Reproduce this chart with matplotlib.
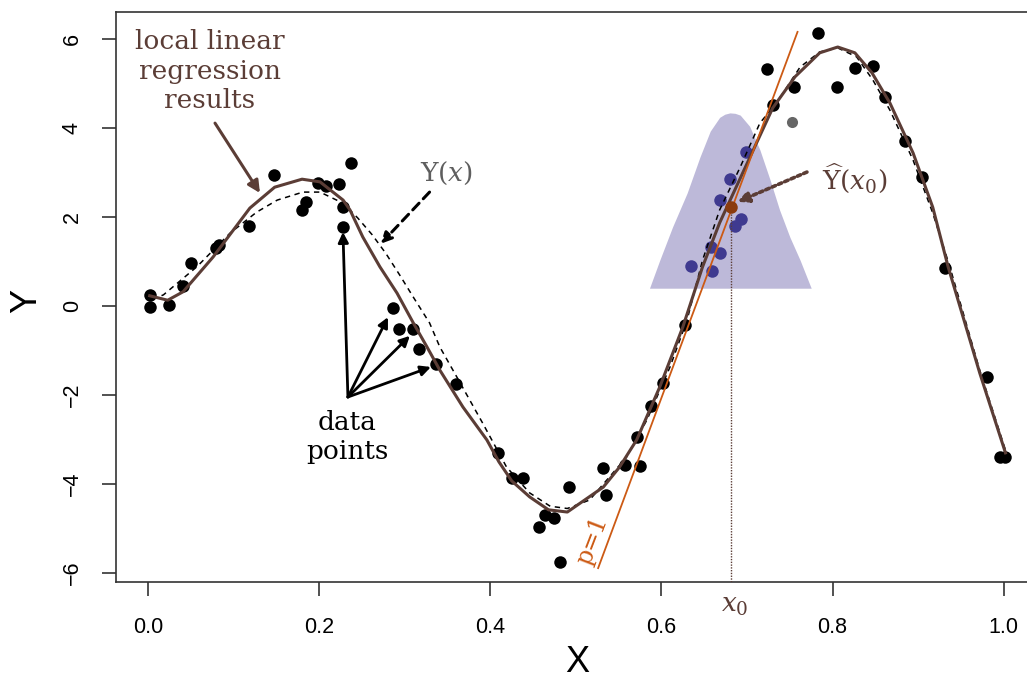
import numpy as np
import matplotlib
matplotlib.use("Agg")
from matplotlib import pyplot as plt

plt.rcParams['font.family'] = ['Liberation Sans', 'DejaVu Sans']
plt.rcParams['mathtext.fontset'] = 'dejavuserif'

# Colours
BROWN  = "#5b3d36"
ORANGE = "#cc5a14"
PURPLE = "#bdb9d9"
BLUE   = "#3f3a90"
SERIF  = "DejaVu Serif"

# Observed data points (black)
pts_x = [0.002, 0.002, 0.025, 0.041, 0.050, 0.080, 0.083, 0.118, 0.147, 0.180,
         0.185, 0.199, 0.208, 0.223, 0.237, 0.228, 0.228, 0.286, 0.293, 0.310,
         0.317, 0.336, 0.360, 0.409, 0.425, 0.438, 0.492, 0.464, 0.475, 0.457,
         0.482, 0.532, 0.535, 0.557, 0.575, 0.571, 0.588, 0.602, 0.627, 0.730,
         0.723, 0.783, 0.755, 0.805, 0.826, 0.847, 0.861, 0.885, 0.904, 0.931,
         0.980, 0.996, 1.002]
pts_y = [0.25, -0.02, 0.02, 0.45, 0.97, 1.30, 1.38, 1.80, 2.94, 2.16,
         2.34, 2.76, 2.70, 2.74, 3.21, 2.22, 1.78, -0.04, -0.52, -0.52,
         -0.97, -1.30, -1.75, -3.30, -3.87, -3.87, -4.07, -4.70, -4.76, -4.97,
         -5.75, -3.64, -4.25, -3.57, -3.60, -2.94, -2.25, -1.73, -0.43, 4.52,
         5.33, 6.13, 4.92, 4.92, 5.35, 5.39, 4.70, 3.71, 2.90, 0.85,
         -1.60, -3.39, -3.39]

# Points inside the local window (blue)
win_x = [0.634, 0.659, 0.658, 0.668, 0.686, 0.693, 0.668, 0.680, 0.699]
win_y = [0.90, 0.79, 1.33, 1.19, 1.80, 1.96, 2.38, 2.85, 3.46]

# Grey point
grey_x = [0.753]
grey_y = [4.13]

# True function Y(x) (dashed)
true_x = [0.005, 0.018, 0.057, 0.096, 0.127, 0.151, 0.181, 0.201, 0.228, 0.245,
          0.262, 0.278, 0.294, 0.310, 0.329, 0.341, 0.361, 0.391, 0.419, 0.446,
          0.470, 0.490, 0.516, 0.559, 0.583, 0.610, 0.630, 0.648, 0.668, 0.692,
          0.715, 0.735, 0.762, 0.785, 0.806, 0.828, 0.847, 0.867, 0.894, 0.917,
          0.937, 0.972, 1.002]
true_y = [0.15, 0.25, 0.88, 1.64, 2.11, 2.38, 2.56, 2.56, 2.31, 1.98,
          1.60, 1.18, 0.70, 0.20, -0.38, -0.92, -1.60, -2.63, -3.62, -4.20,
          -4.50, -4.55, -4.36, -3.40, -2.56, -1.37, -0.31, 1.03, 2.16, 3.12,
          4.11, 4.58, 5.37, 5.71, 5.80, 5.60, 5.08, 4.40, 3.28, 2.09,
          0.88, -1.45, -3.24]

# Local linear regression fit (solid)
llr_x = [0.002, 0.023, 0.041, 0.076, 0.119, 0.148, 0.180, 0.201, 0.228, 0.236,
         0.251, 0.271, 0.291, 0.310, 0.326, 0.341, 0.368, 0.396, 0.410, 0.425,
         0.446, 0.468, 0.490, 0.532, 0.551, 0.571, 0.598, 0.625, 0.648, 0.668,
         0.730, 0.756, 0.785, 0.806, 0.826, 0.846, 0.867, 0.894, 0.917, 0.935,
         0.972, 1.002]
llr_y = [0.23, 0.13, 0.32, 1.10, 2.20, 2.67, 2.85, 2.79, 2.38, 2.16,
         1.55, 0.88, 0.29, -0.38, -0.92, -1.44, -2.27, -3.01, -3.50, -3.93,
         -4.29, -4.58, -4.63, -4.07, -3.62, -3.01, -1.82, -0.47, 0.88, 1.87,
         4.45, 5.15, 5.69, 5.82, 5.69, 5.24, 4.56, 3.44, 2.22, 0.88,
         -1.51, -3.30]

# Kernel weight shape around x0
kern_x = [0.586, 0.598, 0.613, 0.630, 0.645, 0.657, 0.668, 0.674, 0.680, 0.686,
          0.692, 0.703, 0.715, 0.727, 0.738, 0.750, 0.762, 0.775]
kern_y = [0.40, 1.03, 1.78, 2.54, 3.35, 3.93, 4.24, 4.31, 4.34, 4.33,
          4.29, 4.04, 3.51, 2.83, 2.16, 1.55, 1.03, 0.40]
kern_base = 0.40

# Local fit at x0 (p=1)
x0, y0_hat = 0.681, 2.22
fit_x = [0.526, 0.759]
fit_y = [-5.89, 6.16]

XLIM = (-0.0374, 1.04)
YLIM = (-6.202, 6.607)

fig = plt.figure(figsize=(10.27, 6.79), dpi=100)
ax = fig.add_axes([116/1027, 97/679, 922/1027, 570/679])
ax.set_xlim(*XLIM)
ax.set_ylim(*YLIM)

ax.fill_between(kern_x, kern_base, kern_y, color=PURPLE, lw=0, zorder=1)
ax.plot(pts_x, pts_y, 'o', color='black', ms=9.0, mec='none', zorder=3)
ax.plot(win_x, win_y, 'o', color=BLUE, ms=9.0, mec='none', zorder=3)
ax.plot(grey_x, grey_y, 'o', color='#666666', ms=8.0, mec='none', zorder=3)
ax.plot(true_x, true_y, color='black', lw=1.1, ls=(0, (3.5, 3)), zorder=4)
ax.plot(llr_x, llr_y, color=BROWN, lw=2.2, zorder=5)
ax.plot(fit_x, fit_y, color=ORANGE, lw=1.3, zorder=6)
ax.vlines(x0, YLIM[0], y0_hat, colors=BROWN, linestyles=(0, (1, 1)), lw=1.0, zorder=4)
ax.plot([x0], [y0_hat], 'o', color='#8a3b0e', ms=9.0, mec='none', zorder=7)

# Annotations
ax.text(0.072, 5.28, "local linear\nregression\nresults", family=SERIF, fontsize=19,
        color=BROWN, ha='center', va='center', linespacing=1.22)
ax.annotate("", xy=(0.1308, 2.54), xytext=(0.0783, 4.11),
            arrowprops=dict(arrowstyle='-|>', color=BROWN, lw=2.2, mutation_scale=18,
                            shrinkA=0, shrinkB=0))

ax.text(0.349, 2.99, r"$\mathrm{Y}(x)$", fontsize=19, color='#5e5e5e',
        ha='center', va='center')
ax.annotate("", xy=(0.272, 1.40), xytext=(0.329, 2.56),
            arrowprops=dict(arrowstyle='-|>', color='black', lw=2.2, ls=(0, (3, 2)),
                            mutation_scale=16, shrinkA=0, shrinkB=0))

ax.text(0.2325, -2.95, "data\npoints", family=SERIF, fontsize=19, color='black',
        ha='center', va='center', linespacing=1.22)
arrow_tips = [(0.2278, 1.66), (0.2804, -0.25), (0.306, -0.67), (0.3306, -1.37)]
for tip in arrow_tips:
    ax.annotate("", xy=tip, xytext=(0.2336, -2.045),
                arrowprops=dict(arrowstyle='-|>', color='black', lw=2.0,
                                mutation_scale=15, shrinkA=0, shrinkB=0))

ax.text(0.826, 2.88, r"$\widehat{\mathrm{Y}}(x_0)$", fontsize=19, color=BROWN,
        ha='center', va='center')
ax.annotate("", xy=(0.689, 2.34), xytext=(0.770, 3.01),
            arrowprops=dict(arrowstyle='-|>', color=BROWN, lw=2.6, ls=(0, (1, 0.9)),
                            mutation_scale=16, shrinkA=0, shrinkB=0))

ax.text(0.686, -6.74, r"$x_0$", fontsize=19, color=BROWN, ha='center', va='center',
        clip_on=False)
ax.text(0.520, -5.26, "p=1", family=SERIF, fontsize=17, color=ORANGE, rotation=69,
        ha='center', va='center')

# Axes styling
for s in ax.spines.values():
    s.set_linewidth(1.2)
    s.set_color('#333333')
ax.set_xticks([0.0, 0.2, 0.4, 0.6, 0.8, 1.0])
ax.set_xticklabels(["0.0", "0.2", "0.4", "0.6", "0.8", "1.0"])
ax.set_yticks([-6, -4, -2, 0, 2, 4, 6])
ax.set_yticklabels(["\u22126", "\u22124", "\u22122", "0", "2", "4", "6"])
ax.tick_params(length=10, width=1.2, color='#333333', labelsize=15.5)
ax.tick_params(axis='x', pad=15)
ax.tick_params(axis='y', pad=14, labelrotation=90)
plt.setp(ax.get_yticklabels(), va='center')

ax.set_xlabel("X", fontsize=26, va='center')
ax.set_ylabel("Y", fontsize=26, va='center')
ax.xaxis.set_label_coords(0.5, -0.141)
ax.yaxis.set_label_coords(-0.0965, 0.493)

fig.savefig("out.png", dpi=100)
